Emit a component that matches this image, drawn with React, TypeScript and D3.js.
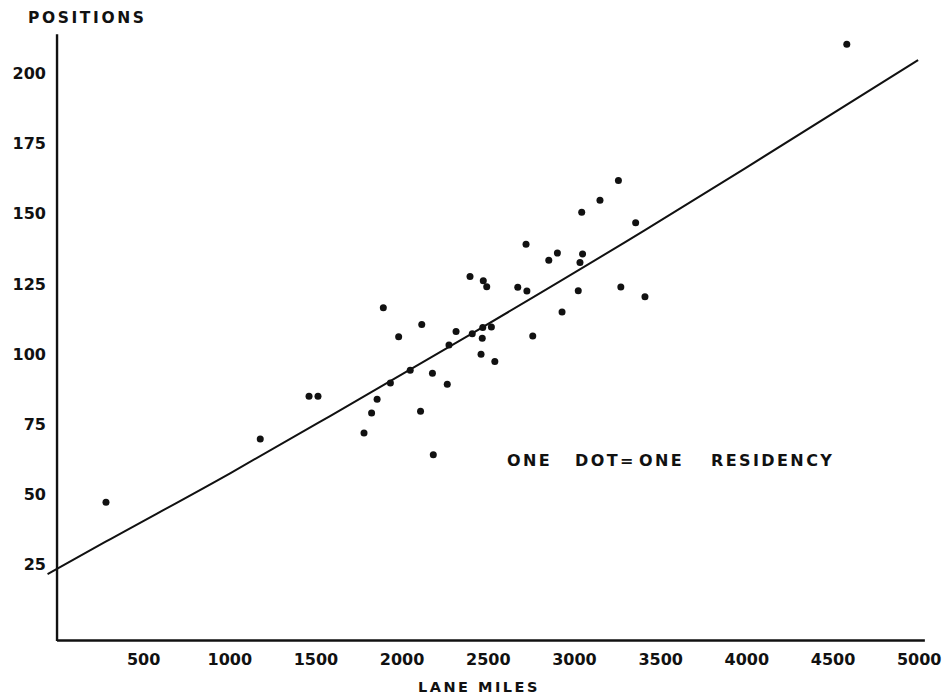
import React, { useEffect, useRef } from "react";
import * as d3 from "d3";

// lane miles / positions, one dot per residency
const laneMiles = [
  4577, 3252, 3145, 3039, 3352, 2716, 2898, 2848, 3044, 3029, 2391, 2468, 2488,
  2668, 2721, 3019, 3266, 3406, 1888, 2925, 2111, 2310, 2465, 2515, 1977, 2404,
  2462, 2755, 2269, 2455, 2535, 2044, 2173, 1929, 2259, 1457, 1509, 1852, 1820,
  2104, 1776, 2178, 1174, 279,
];
const positions = [
  210.4, 161.9, 154.8, 150.5, 146.8, 139.1, 136.0, 133.4, 135.7, 132.6, 127.6,
  126.1, 124.0, 123.8, 122.5, 122.6, 123.9, 120.4, 116.5, 115.0, 110.5, 108.0,
  109.5, 109.6, 106.2, 107.2, 105.6, 106.4, 103.2, 99.9, 97.3, 94.2, 93.2, 89.7,
  89.2, 85.0, 85.0, 83.9, 79.0, 79.6, 71.9, 64.1, 69.7, 47.2,
];

// fitted curve
const fitMiles = [-60, 277, 999, 1579, 2404, 3406, 3987, 4991];
const fitPositions = [21.6, 33.1, 57.5, 77.9, 107.4, 144.2, 166.2, 204.8];

const xTicks = [500, 1000, 1500, 2000, 2500, 3000, 3500, 4000, 4500, 5000];
const yTicks = [25, 50, 75, 100, 125, 150, 175, 200];

const width = 945;
const height = 698;
const font = "'DejaVu Sans', sans-serif";
const ink = "#111";

const App = () => {
  const svgRef = useRef(null);

  useEffect(() => {
    const x = d3.scaleLinear([0, 5000], [57.9, 919.7]);
    const y = d3.scaleLinear([0, 200], [634.6, 73.5]);

    const svg = d3.select(svgRef.current);
    svg.selectAll("*").remove();

    // axis lines
    svg
      .append("line")
      .attr("x1", x(-5))
      .attr("x2", x(-5))
      .attr("y1", y(214))
      .attr("y2", y(-2.3))
      .attr("stroke", ink)
      .attr("stroke-width", 2.4);
    svg
      .append("line")
      .attr("x1", x(-5))
      .attr("x2", x(5030))
      .attr("y1", y(-2.1))
      .attr("y2", y(-2.1))
      .attr("stroke", ink)
      .attr("stroke-width", 2.4);

    const styleText = (g: any) =>
      g
        .selectAll("text")
        .attr("font-family", font)
        .attr("font-weight", "bold")
        .attr("font-size", 16)
        .attr("fill", ink);

    const yAxis = d3
      .axisLeft(y)
      .tickValues(yTicks)
      .tickSize(0)
      .tickPadding(10)
      .tickFormat(d3.format("d"));
    svg
      .append("g")
      .attr("transform", `translate(${x(0) - 2}, 0)`)
      .call(yAxis)
      .call((g) => g.select(".domain").remove())
      .call(styleText);

    const xAxis = d3
      .axisBottom(x)
      .tickValues(xTicks)
      .tickSize(0)
      .tickPadding(13)
      .tickFormat(d3.format("d"));
    svg
      .append("g")
      .attr("transform", `translate(-1, ${y(-2.1)})`)
      .call(xAxis)
      .call((g) => g.select(".domain").remove())
      .call(styleText);

    // fitted curve
    const line = d3
      .line<[number, number]>()
      .x((d) => x(d[0]))
      .y((d) => y(d[1]))
      .curve(d3.curveMonotoneX);
    svg
      .append("path")
      .attr("fill", "none")
      .attr("stroke", ink)
      .attr("stroke-width", 2)
      .attr(
        "d",
        line(fitMiles.map((m, i) => [m, fitPositions[i]] as [number, number]))
      );

    // dots
    svg
      .append("g")
      .selectAll("circle")
      .data(laneMiles.map((m, i) => [m, positions[i]]))
      .join("circle")
      .attr("cx", (d) => x(d[0]))
      .attr("cy", (d) => y(d[1]))
      .attr("r", 3.5)
      .attr("fill", ink);

    // titles
    svg
      .append("text")
      .attr("x", 28)
      .attr("y", 23)
      .attr("font-family", font)
      .attr("font-weight", "bold")
      .attr("font-size", 15.5)
      .attr("letter-spacing", 2.6)
      .attr("fill", ink)
      .text("POSITIONS");
    svg
      .append("text")
      .attr("x", 418)
      .attr("y", 692)
      .attr("font-family", font)
      .attr("font-weight", "bold")
      .attr("font-size", 14.5)
      .attr("letter-spacing", 2.5)
      .attr("fill", ink)
      .text("LANE MILES");

    const note = svg
      .append("g")
      .attr("font-family", font)
      .attr("font-weight", "bold")
      .attr("font-size", 16)
      .attr("letter-spacing", 2.4)
      .attr("fill", ink);
    [
      ["ONE", 507],
      ["DOT=", 575],
      ["ONE", 639],
      ["RESIDENCY", 711],
    ].forEach(([t, px]) => {
      note
        .append("text")
        .attr("x", px as number)
        .attr("y", 466)
        .text(t as string);
    });
  }, []);

  return (
    <svg
      ref={svgRef}
      width={width}
      height={height}
      style={{ position: "absolute", left: 0, top: 0, background: "#fff" }}
    />
  );
};

export default App;
